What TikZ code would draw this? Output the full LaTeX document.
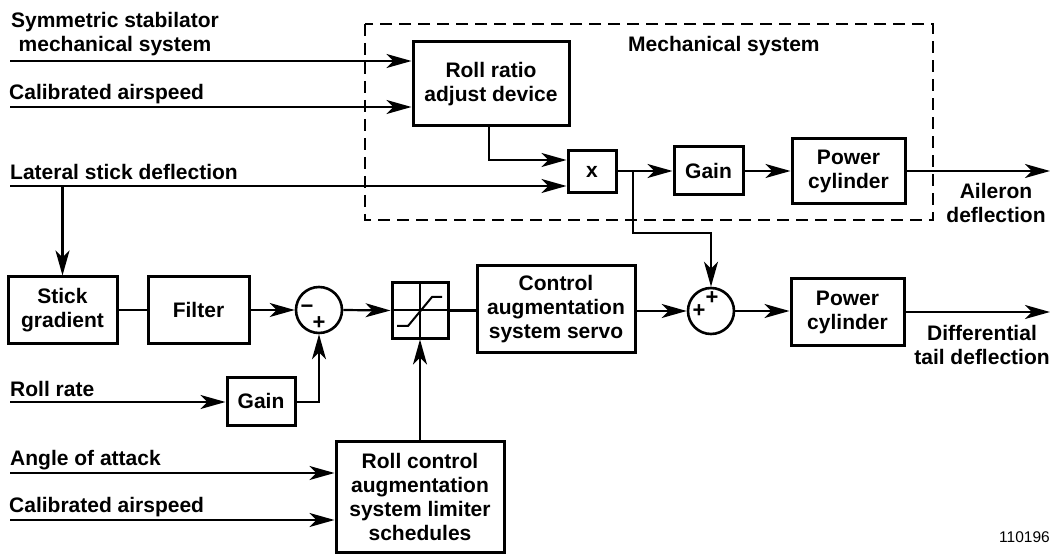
\documentclass[tikz,border=0pt]{standalone}
\usepackage{fontspec}
\setmainfont{Liberation Sans}
\usetikzlibrary{arrows.meta,calc}
\newcommand\lblfont{\fontsize{21}{24}\selectfont\bfseries}
\newcommand\sgnfont{\fontsize{22}{22}\selectfont\bfseries}
\begin{document}
\begin{tikzpicture}[x=1pt,y=-1pt,
  blk/.style={draw, line width=3pt, inner sep=0pt, font=\lblfont, align=center},
  lbl/.style={font=\lblfont, inner sep=0pt},
  conn/.style={line width=2.2pt},
  arr/.style={conn, -{Stealth[length=25pt,width=14pt,inset=7pt]}},
  sumc/.style={draw, circle, line width=2.6pt, minimum size=46pt, inner sep=0pt},
  sgn/.style={font=\sgnfont, inner sep=0pt},
  grp/.style={draw, line width=2.6pt, dash pattern=on 12pt off 7pt}
]
\useasboundingbox (0,0) rectangle (1053,556);

% ---------- mechanical system ----------
\draw[grp] (365,24) rectangle (933,220);
\node[lbl, anchor=base west] (mech) at (628,52) {Mechanical system};

\node[blk, minimum width=156pt, minimum height=84pt] (rr) at (491,84) {Roll ratio\\adjust device};
\node[blk, minimum width=48pt, minimum height=42pt] (mx) at (592,172) {x};
\node[blk, minimum width=69pt, minimum height=48pt] (g1) at (708.5,171) {Gain};
\node[blk, minimum width=113pt, minimum height=65pt] (pc1) at (848.5,171) {Power\\cylinder};

% inputs
\node[lbl, align=center] (in1) at (115,34) {Symmetric stabilator\\mechanical system};
\node[lbl, anchor=base west] (in2) at (9,100) {Calibrated airspeed};
\node[lbl, anchor=base west] (in3) at (10,180) {Lateral stick deflection};
\coordinate (s1) at (10,61);
\coordinate (s2) at (10,107);
\coordinate (s3) at (10,186);
\draw[arr] (s1) -- (s1 -| rr.west);
\draw[arr] (s2) -- (s2 -| rr.west);
\draw[arr] (s3) -- (s3 -| mx.west);
\draw[arr] ($(rr.south)+(-2,0)$) |- ($(mx.west)+(0,-12)$);

\coordinate (br) at (633,171);
\draw[conn] (mx.east |- br) -- (br);
\draw[arr] (br) -- (g1.west);
\draw[arr] (g1.east) -- (pc1.west);
\coordinate (o1) at (1050,171);
\draw[arr] (pc1.east) -- (o1);
\node[lbl, align=center] (ail) at (996,203) {Aileron\\deflection};

% ---------- lower row ----------
\node[blk, minimum width=109pt, minimum height=66pt] (sg) at (62.5,310) {Stick\\gradient};
\node[blk, minimum width=101pt, minimum height=66pt] (flt) at (198.5,310) {Filter};
\node[sumc] (s1c) at (319,310) {};
\node[blk, minimum width=56pt, minimum height=55pt] (lim) at (420,310.5) {};
\node[blk, minimum width=158pt, minimum height=86pt] (cas) at (556,309) {Control\\augmentation\\system servo};
\node[sumc] (s2c) at (711,311) {};
\node[blk, minimum width=113pt, minimum height=66pt] (pc2) at (847.5,312) {Power\\cylinder};
\node[blk, minimum width=68pt, minimum height=48pt] (g2) at (261,401) {Gain};
\node[blk, minimum width=168pt, minimum height=111pt] (rc) at (420,496.5) {Roll control\\augmentation\\system limiter\\schedules};

% signs
\node[sgn] (m1) at (307,309) {−};
\node[sgn] (p1) at (319,323) {+};
\node[sgn] (p2) at (712,298) {+};
\node[sgn] (p3) at (699,311) {+};

% limiter symbol
\draw[line width=2pt] (lim.north) -- (lim.south);
\draw[line width=2pt] (lim.west) -- (lim.east);
\draw[line width=2pt] (397,326) -- (408,326) -- (432,297) -- (442,297);

% connectors
\draw[arr] (sg.north |- s3) -- (sg.north);
\draw[conn] (sg.east) -- (flt.west);
\draw[arr] (flt.east) -- (s1c.west);
\draw[arr] (s1c.east) -- (lim.west);
\draw[conn] (lim.east) -- (lim.east -| cas.west);
\draw[arr] (s2c.west -| cas.east) -- (s2c.west);
\draw[arr] (s2c.east) -- (s2c.east -| pc2.west);
\coordinate (o2) at (1050,312);
\draw[arr] (pc2.east) -- (o2);
\node[lbl, align=center] (dif) at (982,345) {Differential\\tail deflection};

\draw[arr] (br) -- (633,233) -| (s2c.north);

\node[lbl, anchor=base west] (rrl) at (10,396) {Roll rate};
\coordinate (r0) at (10,402);
\draw[arr] (r0) -- (r0 -| g2.west);
\draw[arr] (g2.east |- r0) -| (s1c.south);
\draw[arr] (rc.north) -- (lim.south);

\node[lbl, anchor=base west] (aoa) at (10,465) {Angle of attack};
\node[lbl, anchor=base west] (cas2) at (9,512) {Calibrated airspeed};
\coordinate (a0) at (10,473);
\coordinate (c0) at (10,520);
\draw[arr] (a0) -- (a0 -| rc.west);
\draw[arr] (c0) -- (c0 -| rc.west);

\node[font=\fontsize{15.5}{18}\selectfont, inner sep=0pt, anchor=base east] (num) at (1050,542) {110196};
\end{tikzpicture}
\end{document}
